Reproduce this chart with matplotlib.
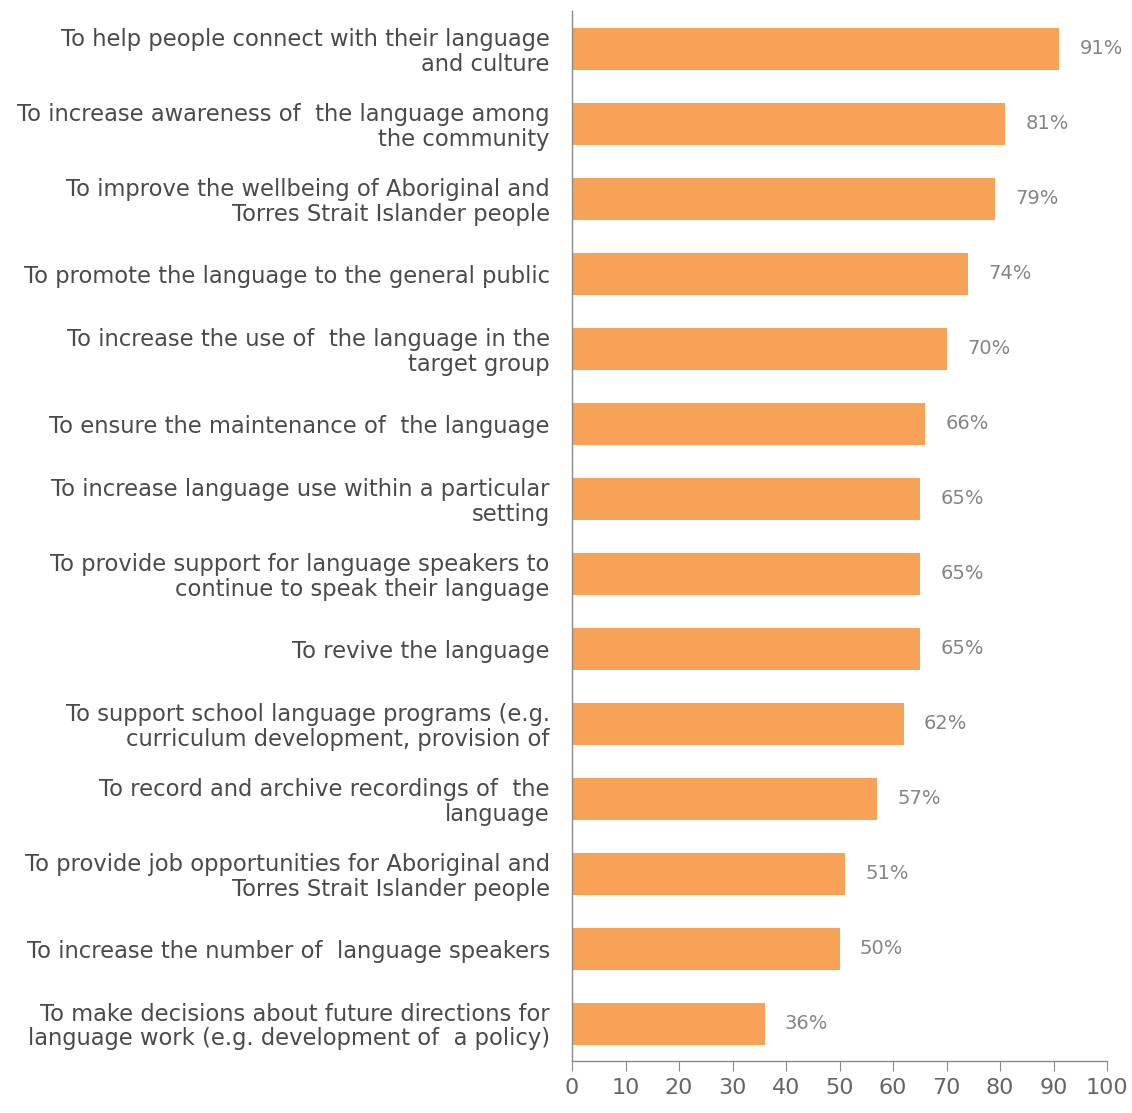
import matplotlib.pyplot as plt
import numpy as np

# categories (top to bottom) and percentages
labels = [
    'To help people connect with their language\nand culture',
    'To increase awareness of  the language among\nthe community',
    'To improve the wellbeing of Aboriginal and\nTorres Strait Islander people',
    'To promote the language to the general public',
    'To increase the use of  the language in the\ntarget group',
    'To ensure the maintenance of  the language',
    'To increase language use within a particular\nsetting',
    'To provide support for language speakers to\ncontinue to speak their language',
    'To revive the language',
    'To support school language programs (e.g.\ncurriculum development, provision of',
    'To record and archive recordings of  the\nlanguage',
    'To provide job opportunities for Aboriginal and\nTorres Strait Islander people',
    'To increase the number of  language speakers',
    'To make decisions about future directions for\nlanguage work (e.g. development of  a policy)',
]
values = [91, 81, 79, 74, 70, 66, 65, 65, 65, 62, 57, 51, 50, 36]
xticks = [0, 10, 20, 30, 40, 50, 60, 70, 80, 90, 100]

bar_color = '#F7A256'
text_color = '#4a4a4a'
value_color = '#858585'
axis_color = '#8a8a8a'

plt.rcParams['font.family'] = ['DejaVu Sans']

fig = plt.figure(figsize=(11.32, 11.13), dpi=100)
ax = fig.add_axes([0.5053, 0.0467, 0.4727, 0.943])

y = np.arange(len(values))
ax.barh(y, values, height=0.56, color=bar_color)

for yi, v in zip(y, values):
    ax.text(v + 3.8, yi, f'{v}%', va='center', ha='left',
            fontsize=14, color=value_color)

ax.set_yticks(y)
ax.set_yticklabels(labels, fontsize=16.3, color=text_color,
                   multialignment='right', linespacing=1.08)
ax.tick_params(axis='y', length=0, pad=16)
ax.set_ylim(len(values) - 0.5, -0.5)

ax.set_xlim(0, 100)
ax.set_xticks(xticks)
ax.set_xticklabels([str(t) for t in xticks], fontsize=16, color='#666666')
ax.tick_params(axis='x', length=7, color=axis_color, pad=5)

for s in ['top', 'right']:
    ax.spines[s].set_visible(False)
for s in ['left', 'bottom']:
    ax.spines[s].set_color(axis_color)
    ax.spines[s].set_linewidth(1.0)

fig.savefig('out.png', dpi=100, facecolor='white')
